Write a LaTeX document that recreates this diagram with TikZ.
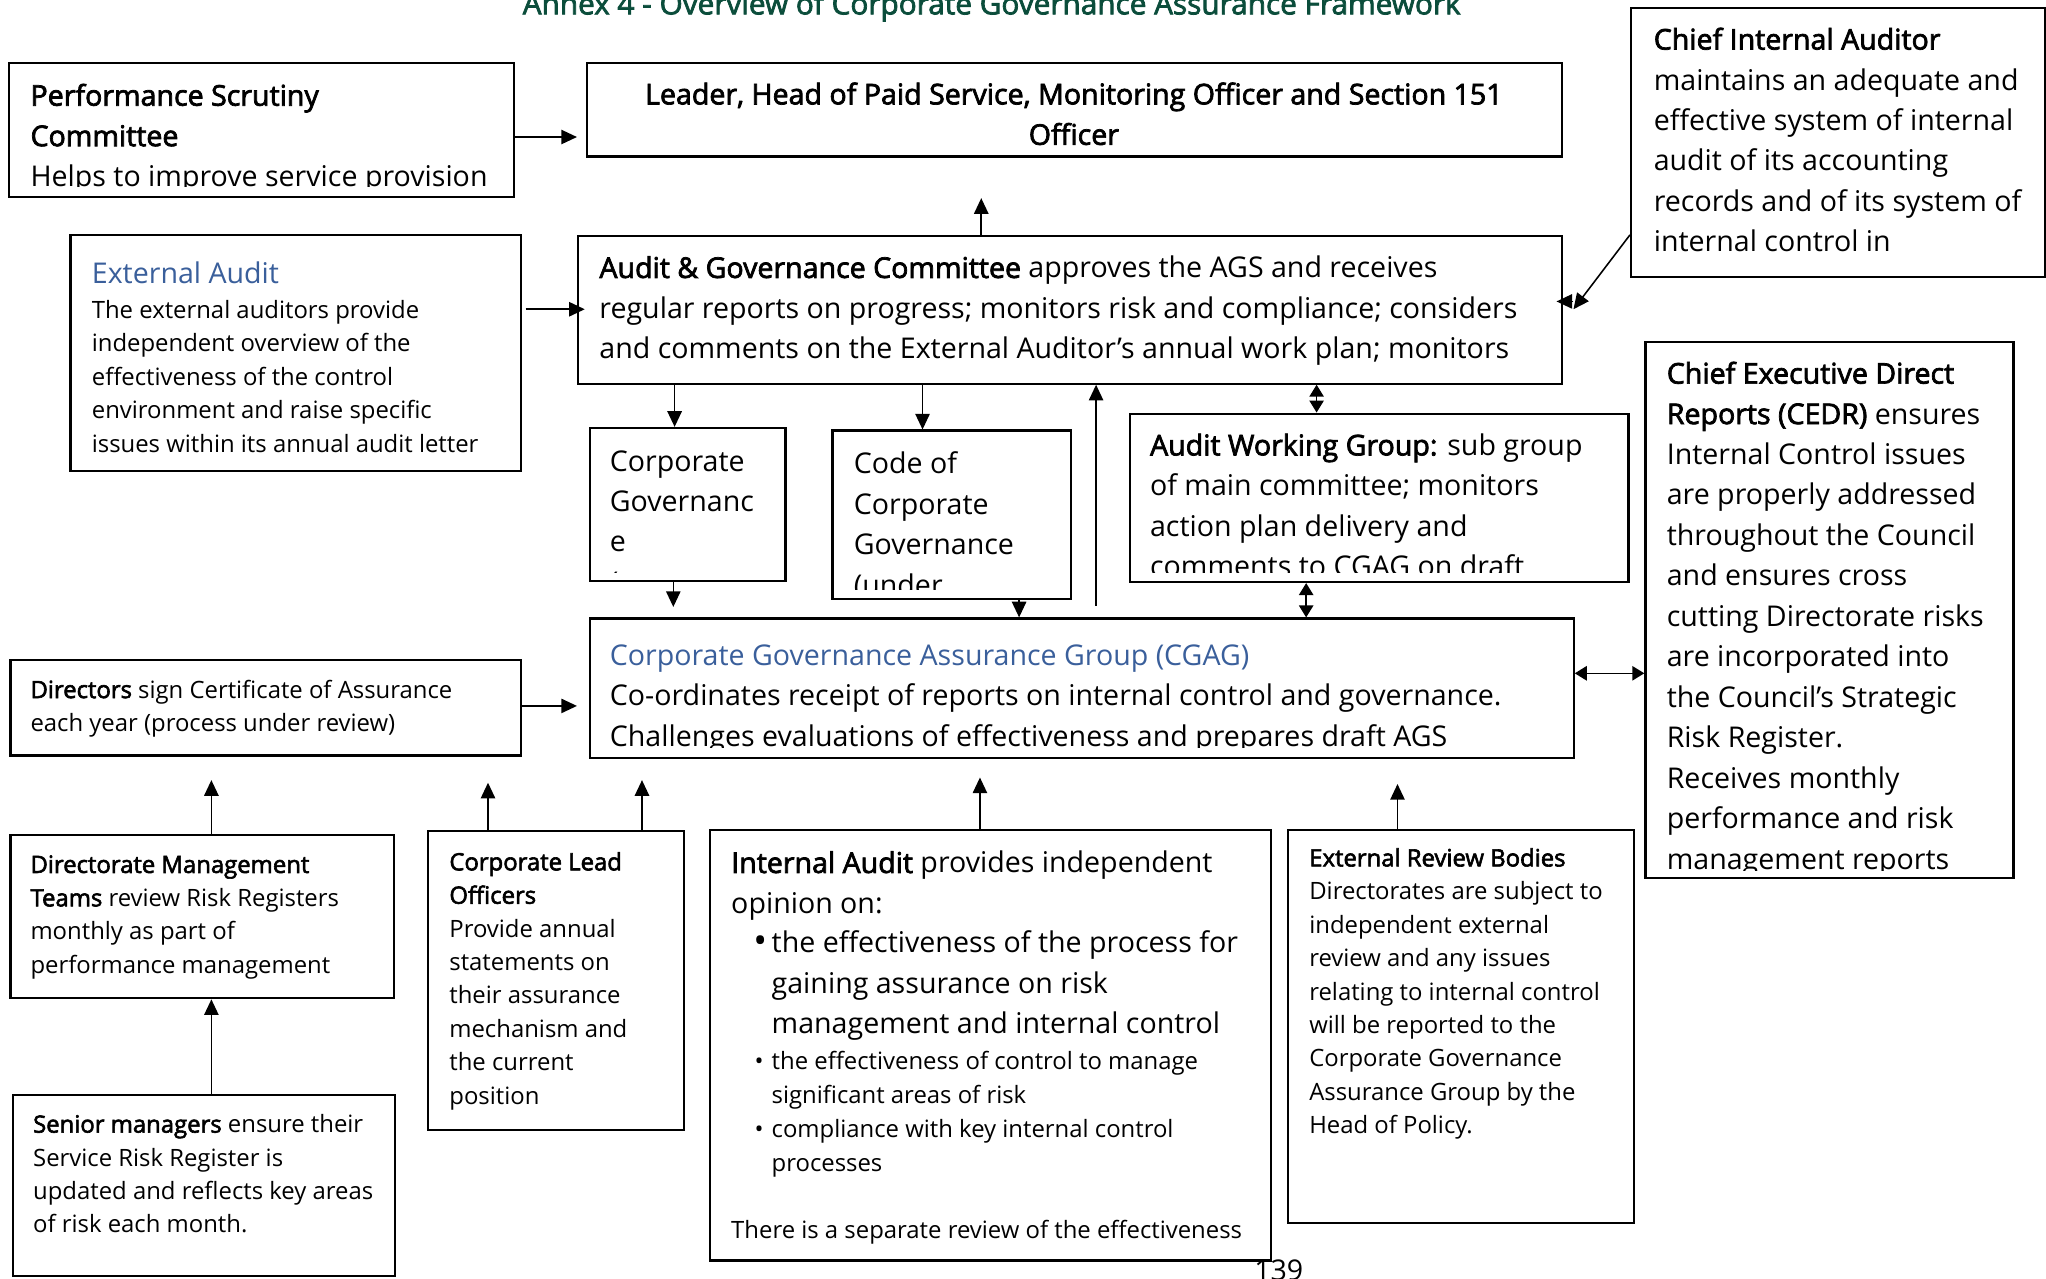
\documentclass[tikz,border=0pt]{standalone}
\usepackage{fontspec}
\setmainfont{Open Sans}[AutoFakeBold=2.5, BoldFeatures={FakeBold=1.2}]
\usetikzlibrary{arrows.meta,fit}
\definecolor{hblue}{HTML}{3A5F9B}
\definecolor{tgreen}{HTML}{0B4D3B}
\newcommand\fbig{\fontsize{10.95pt}{15.5pt}\selectfont}
\newcommand\fsml{\fontsize{9.15pt}{12.8pt}\selectfont}
\newcommand\pb[1]{\parbox[t]{420pt}{\raggedright #1}}
\begin{document}
\begin{tikzpicture}[x=0.5pt,y=-0.5pt,
  box/.style={draw, line width=0.85pt, inner sep=0pt},
  txt/.style={inner sep=0pt, anchor=base west},
  arr/.style={line width=0.6pt, -{Triangle[length=6pt,width=5.5pt]}},
  darr/.style={line width=0.6pt, {Triangle[length=4.6pt,width=5.5pt]}-{Triangle[length=4.6pt,width=5.5pt]}}]
\useasboundingbox (0,0) rectangle (1568,980);
\clip (0,0) rectangle (1568,980);

% title and page number
\node[anchor=base, inner sep=0pt, text=tgreen, font=\bfseries\fontsize{11.4pt}{12pt}\selectfont] (title) at (760,11)
  {Annex 4 - Overview of Corporate Governance Assurance Framework};
\node[anchor=base, inner sep=0pt] (page) at (980,981) {\fbig 139};

% boxes
\node[box, fit={(7,48) (394,151)}] (psc) {};
\node[box, fit={(450,48) (1197,120)}] (leader) {};
\node[box, fit={(1250,6) (1567,212)}] (cia) {};
\node[box, fit={(54,180) (399,361)}] (ea) {};
\node[box, fit={(443,181) (1197,294)}] (agc) {};
\node[box, fit={(452,328) (602,445)}] (cg) {};
\node[box, fit={(638,330) (821,459)}] (code) {};
\node[box, fit={(866,317) (1248,446)}] (awg) {};
\node[box, fit={(452,474) (1206,581)}] (cgag) {};
\node[box, fit={(1261,262) (1543,673)}] (cedr) {};
\node[box, fit={(8,506) (399,579)}] (dir) {};
\node[box, fit={(8,640) (302,765)}] (dmt) {};
\node[box, fit={(10,839) (303,978)}] (sen) {};
\node[box, fit={(328,637) (524,866)}] (clo) {};
\node[box, fit={(544,636) (974,966)}] (ia) {};
\node[box, fit={(987,636) (1252,937)}] (erb) {};

% texts
\begin{scope}
\clip (7,48) rectangle (394,143);
\node[txt] (psc-t) at (23,81) {\pb{\fbig\textbf{Performance Scrutiny}\\\textbf{Committee}\\Helps to improve service provision}};
\end{scope}
\node[inner sep=0pt, anchor=base] (leader-t) at (823,80) {\parbox[t]{720pt}{\centering\fbig\textbf{Leader, Head of Paid Service, Monitoring Officer and Section 151}\\\textbf{Officer}}};
\begin{scope}
\clip (1250,6) rectangle (1567,206);
\node[txt] (cia-t) at (1267,38) {\pb{\fbig\textbf{Chief Internal Auditor}\\maintains an adequate and\\effective system of internal\\audit of its accounting\\records and of its system of\\internal control in}};
\end{scope}
\node[txt] (ea-h) at (70,217) {\fbig\color{hblue}External Audit};
\node[txt] (ea-t) at (70,244) {\pb{\fsml The external auditors provide\\independent overview of the\\effectiveness of the control\\environment and raise specific\\issues within its annual audit letter}};
\begin{scope}
\clip (443,181) rectangle (1197,288);
\node[txt] (agc-t) at (459,213) {\pb{\fbig\textbf{Audit \& Governance Committee} approves the AGS and receives\\regular reports on progress; monitors risk and compliance; considers\\and comments on the External Auditor’s annual work plan; monitors}};
\end{scope}
\begin{scope}
\clip (452,328) rectangle (602,439);
\node[txt] (cg-t) at (467,361) {\pb{\fbig Corporate\\Governanc\\e\\(}};
\end{scope}
\begin{scope}
\clip (638,330) rectangle (821,452);
\node[txt] (code-t) at (654,363) {\pb{\fbig Code of\\Corporate\\Governance\\(under}};
\end{scope}
\begin{scope}
\clip (866,317) rectangle (1248,439);
\node[txt] (awg-t) at (881,349) {\pb{\fbig\textbf{Audit Working Group:} sub group\\of main committee; monitors\\action plan delivery and\\comments to CGAG on draft}};
\end{scope}
\begin{scope}
\clip (452,474) rectangle (1206,573);
\node[txt] (cgag-t) at (467,510) {\pb{\fbig\leavevmode\textcolor{hblue}{Corporate Governance Assurance Group (CGAG)}\\Co-ordinates receipt of reports on internal control and governance.\\Challenges evaluations of effectiveness and prepares draft AGS}};
\end{scope}
\begin{scope}
\clip (1261,262) rectangle (1543,667);
\node[txt] (cedr-t) at (1277,294) {\pb{\fbig\textbf{Chief Executive Direct}\\\textbf{Reports (CEDR)} ensures\\Internal Control issues\\are properly addressed\\throughout the Council\\and ensures cross\\cutting Directorate risks\\are incorporated into\\the Council’s Strategic\\Risk Register.\\Receives monthly\\performance and risk\\management reports}};
\end{scope}
\node[txt] (dir-t) at (23,535) {\pb{\fsml\textbf{Directors} sign Certificate of Assurance\\each year (process under review)}};
\node[txt] (dmt-t) at (23,669) {\pb{\fsml\textbf{Directorate Management}\\\textbf{Teams} review Risk Registers\\monthly as part of\\performance management}};
\node[txt] (sen-t) at (25,868) {\pb{\fsml\textbf{Senior managers} ensure their\\Service Risk Register is\\updated and reflects key areas\\of risk each month.}};
\node[txt] (clo-t) at (344,667) {\pb{\fsml\textbf{Corporate Lead}\\\textbf{Officers}\\Provide annual\\statements on\\their assurance\\mechanism and\\the current\\position}};
\node[txt] (ia-t1) at (560,669) {\pb{\fbig\textbf{Internal Audit} provides independent\\opinion on:}};
\node[txt] (ia-b1) at (577,731) {\fontsize{14pt}{15pt}\selectfont •};
\node[txt] (ia-t2) at (591,730) {\pb{\fbig the effectiveness of the process for\\gaining assurance on risk\\management and internal control}};
\node[txt] (ia-b2) at (578,820) {\fsml •};
\node[txt] (ia-t3) at (591,820) {\pb{\fsml the effectiveness of control to manage\\significant areas of risk}};
\node[txt] (ia-b3) at (578,872) {\fsml •};
\node[txt] (ia-t4) at (591,872) {\pb{\fsml compliance with key internal control\\processes}};
\node[txt] (ia-t5) at (560,949) {\fsml There is a separate review of the effectiveness};
\node[txt] (erb-t) at (1003,664) {\pb{\fsml\textbf{External Review Bodies}\\Directorates are subject to\\independent external\\review and any issues\\relating to internal control\\will be reported to the\\Corporate Governance\\Assurance Group by the\\Head of Policy.}};

% connectors
\draw[arr] (psc.east |- 0,105) -- ([xshift=-3.5pt]leader.west |- 0,105);
\draw[arr] (agc.north -| 752,0) -- ([yshift=-15.5pt]leader.south -| 752,0);
\draw[arr] ([xshift=1.5pt]ea.east |- 0,237) -- ([xshift=3pt]agc.west |- 0,237);
\draw[arr] (agc.south -| 517,0) -- (cg.north -| 517,0);
\draw[arr] (agc.south -| 707,0) -- (code.north -| 707,0);
\draw[arr] ([yshift=4.5pt]cgag.north -| 840,0) -- (agc.south -| 840,0);
\draw[darr] (agc.south -| 1009,0) -- (awg.north -| 1009,0);
\draw[arr] (cg.south -| 516,0) -- ([yshift=4pt]cgag.north -| 516,0);
\draw[arr] (code.south -| 781,0) -- (cgag.north -| 781,0);
\draw[darr] (awg.south -| 1001,0) -- (cgag.north -| 1001,0);
\draw[darr] (cgag.east |- 0,516) -- (cedr.west |- 0,516);
\draw[arr] (dir.east |- 0,541) -- ([xshift=-4.5pt]cgag.west |- 0,541);
\draw[arr] (dmt.north -| 162,0) -- ([yshift=-9pt]dir.south -| 162,0);
\draw[arr] (clo.north -| 374,0) -- ([yshift=-9pt]cgag.south -| 374,0);
\draw[arr] (clo.north -| 492,0) -- ([yshift=-8pt]cgag.south -| 492,0);
\draw[arr] (ia.north -| 751,0) -- ([yshift=-7pt]cgag.south -| 751,0);
\draw[arr] (erb.north -| 1071,0) -- ([yshift=-9.5pt]cgag.south -| 1071,0);
\draw[arr] (sen.north -| 162,0) -- (dmt.south -| 162,0);
\draw[arr] (cia.west |- 0,180) -- ([xshift=4pt]agc.east |- 0,237);
\draw[arr] ([xshift=4pt]agc.east |- 0,231) -- ([xshift=-2.5pt]agc.east |- 0,231);
\end{tikzpicture}
\end{document}
